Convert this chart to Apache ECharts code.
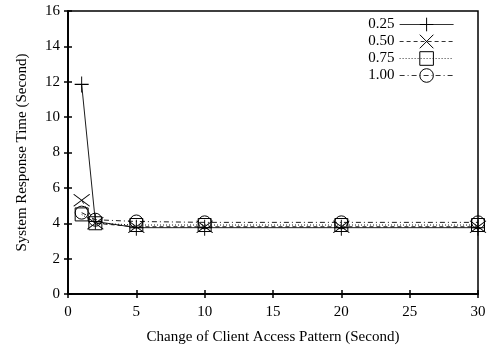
<!DOCTYPE html>
<html><head><meta charset="utf-8">
<script src="https://cdn.jsdelivr.net/npm/echarts@6/dist/echarts.min.js"></script>
<style>html,body{margin:0;padding:0;background:#fff}#c{width:492px;height:354px}</style>
</head><body><div id="c"></div>
<script>
const xValues = [1, 2, 5, 10, 20, 30];
const seriesNames = ['0.25', '0.50', '0.75', '1.00'];
const s025 = [11.85, 4.1, 3.75, 3.75, 3.75, 3.75];
const s050 = [5.3, 4.0, 3.8, 3.8, 3.8, 3.8];
const s075 = [4.5, 4.0, 3.9, 3.9, 3.9, 3.9];
const s100 = [4.6, 4.2, 4.1, 4.05, 4.05, 4.05];
const yTicks = [0, 2, 4, 6, 8, 10, 12, 14, 16];
const xTicks = [0, 5, 10, 15, 20, 25, 30];

const font = 'Liberation Serif';
const pairs = arr => xValues.map((x, i) => [x, arr[i]]);
const plusPath = 'path://M0,-10 L0,10 M-10,0 L10,0';
const crossPath = 'path://M-10,-7 L10,7 M-10,7 L10,-7';
const styles = [
  {data: s025, symbol: plusPath, size: [14, 16], line: 'solid'},
  {data: s050, symbol: crossPath, size: [16, 12], line: [4, 3]},
  {data: s075, symbol: 'rect', size: 13, line: [1, 2]},
  {data: s100, symbol: 'circle', size: 13, line: [5, 3, 1, 3]}
];
const chart = echarts.init(document.getElementById('c'), null, {renderer: 'canvas'});
const axisCommon = {
  axisLine: {show: true, lineStyle: {color: '#000', width: 1.5}},
  axisTick: {show: true, inside: true, length: 4, lineStyle: {color: '#000', width: 1.5}},
  splitLine: {show: false}
};
chart.setOption({
  animation: false,
  grid: {left: 68, right: 14, top: 11, bottom: 60, show: true, borderColor: '#000', borderWidth: 1.5},
  legend: {
    right: 33, top: 11, orient: 'vertical', align: 'right', itemGap: 0,
    itemWidth: 54, itemHeight: 17,
    lineStyle: {width: 0.8},
    itemStyle: {borderWidth: 1},
    textStyle: {fontFamily: font, fontSize: 15, color: '#000', lineHeight: 17},
    data: seriesNames
  },
  xAxis: [
    Object.assign({type: 'value', min: 0, max: 30, interval: 5,
      name: 'Change of Client Access Pattern (Second)', nameLocation: 'middle', nameGap: 36,
      nameTextStyle: {fontFamily: font, fontSize: 15, color: '#000'},
      axisLabel: {fontFamily: font, fontSize: 15, color: '#000', margin: 11,
        formatter: v => xTicks.includes(v) ? String(v) : ''}}, axisCommon),
    Object.assign({type: 'value', min: 0, max: 30, interval: 5, position: 'top',
      axisLabel: {show: false}}, axisCommon)
  ],
  yAxis: [
    Object.assign({type: 'value', min: 0, max: 16, interval: 2,
      name: 'System Response Time (Second)', nameLocation: 'middle', nameGap: 38,
      nameTextStyle: {fontFamily: font, fontSize: 15, color: '#000'},
      axisLabel: {fontFamily: font, fontSize: 15, color: '#000', margin: 8,
        formatter: v => yTicks.includes(v) ? String(v) : ''}}, axisCommon),
    Object.assign({type: 'value', min: 0, max: 16, interval: 2, position: 'right',
      axisLabel: {show: false}}, axisCommon)
  ],
  series: styles.map((s, i) => ({
    name: seriesNames[i], type: 'line', data: pairs(s.data),
    symbol: s.symbol, symbolSize: s.size, showAllSymbol: true,
    lineStyle: {color: '#000', width: 0.9, type: s.line},
    itemStyle: {color: 'rgba(0,0,0,0)', borderColor: '#000', borderWidth: 1},
    z: 2 + i
  }))
});
</script></body></html>
